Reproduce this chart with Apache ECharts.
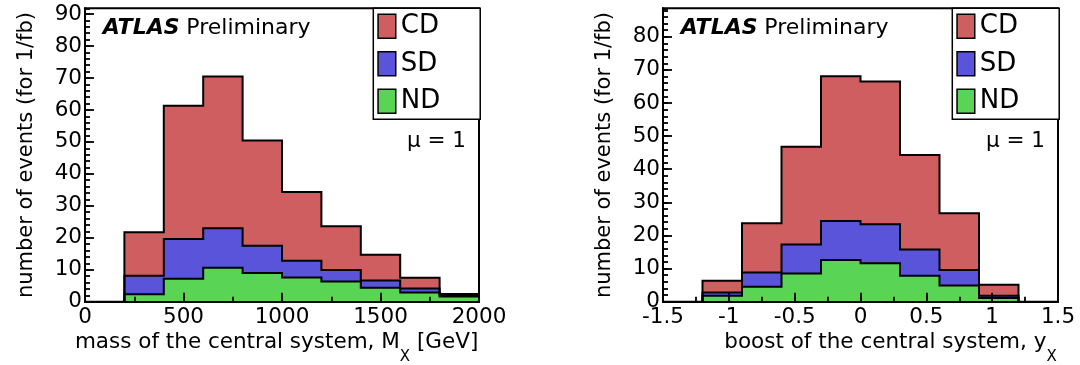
<!DOCTYPE html>
<html><head><meta charset="utf-8">
<script src="https://cdn.jsdelivr.net/npm/echarts@6/dist/echarts.min.js"></script>
<style>html,body{margin:0;padding:0;background:#fff}#c{width:1080px;height:365px}</style>
</head><body><div id="c"></div>
<script>
// ---- data ----
const seriesNames = ['CD', 'SD', 'ND'];
const massBinEdges = [200, 400, 600, 800, 1000, 1200, 1400, 1600, 1800, 2000];
const massND = [2.3, 7.2, 10.6, 9.0, 7.6, 6.3, 4.4, 2.9, 1.6];
const massSD = [5.8, 12.4, 12.4, 8.5, 5.2, 3.6, 2.2, 1.2, 0.4];
const massCD = [13.6, 41.7, 47.5, 32.9, 21.5, 13.7, 8.1, 3.4, 0.4];
const boostBinEdges = [-1.2, -0.9, -0.6, -0.3, 0, 0.3, 0.6, 0.9, 1.2];
const boostND = [1.8, 4.5, 8.5, 12.6, 11.6, 7.8, 4.9, 1.1];
const boostSD = [1.0, 4.3, 8.8, 11.8, 11.8, 8.0, 4.7, 0.7];
const boostCD = [3.5, 14.9, 29.5, 43.7, 43.1, 28.5, 17.1, 3.3];

const FONT = 'DejaVu Sans';
const COLORS = {CD: '#cf5e61', SD: '#5954d9', ND: '#59d454'};

function addArrays(a, b) { return a.map((v, i) => +(v + b[i]).toFixed(3)); }
function histPath(edges, vals) {
  const p = [[edges[0], 0]];
  vals.forEach((v, i) => { p.push([edges[i], v]); p.push([edges[i + 1], v]); });
  p.push([edges[edges.length - 1], 0]);
  return p;
}
function histSeries(name, edges, vals, xi, yi) {
  return {
    type: 'line', name, xAxisIndex: xi, yAxisIndex: yi,
    data: histPath(edges, vals), symbol: 'none', showSymbol: false,
    lineStyle: {color: '#000', width: 2, join: 'miter'},
    areaStyle: {color: COLORS[name], opacity: 1, origin: 'start'},
    itemStyle: {color: COLORS[name]},
    emphasis: {disabled: true}, animation: false
  };
}
function stackTops(nd, sd, cd) {
  const ndTop = nd.slice();
  const sdTop = addArrays(ndTop, sd);
  const cdTop = addArrays(sdTop, cd);
  return {ND: ndTop, SD: sdTop, CD: cdTop};
}
const massTops = stackTops(massND, massSD, massCD);
const boostTops = stackTops(boostND, boostSD, boostCD);

const plainNum = v => String(v);
const labelStyle = {color: '#000', fontFamily: FONT, fontSize: 21.5, formatter: plainNum};
const MAJOR = 9, MINOR = 5;
const TICK_STYLE = {color: '#000', width: 1.8};
function mainX(grid, min, max, interval) {
  return {type: 'value', gridIndex: grid, min, max, interval, position: 'bottom', z: 5,
    axisLine: {show: true, onZero: false, lineStyle: {color: '#000', width: 2}},
    axisTick: {show: true, inside: true, length: MAJOR, lineStyle: TICK_STYLE},
    axisLabel: Object.assign({show: true, margin: 5, showMinLabel: true, showMaxLabel: true}, labelStyle),
    splitLine: {show: false}};
}
function minorX(grid, min, max, interval) {
  return {type: 'value', gridIndex: grid, min, max, interval, position: 'bottom', z: 4,
    axisLine: {show: false, onZero: false},
    axisTick: {show: true, inside: true, length: MINOR, lineStyle: TICK_STYLE},
    axisLabel: {show: false}, splitLine: {show: false}};
}
function mainY(grid, max, name) {
  return {type: 'value', gridIndex: grid, min: 0, max, interval: 10, position: 'left', z: 5,
    axisLine: {show: true, onZero: false, lineStyle: {color: '#000', width: 2}},
    axisTick: {show: true, inside: true, length: MAJOR, lineStyle: TICK_STYLE},
    axisLabel: Object.assign({show: true, margin: 3, showMaxLabel: false}, labelStyle),
    splitLine: {show: false},
    name, nameLocation: 'middle', nameRotate: 90, nameGap: 48,
    nameTextStyle: {color: '#000', fontFamily: FONT, fontSize: 21}};
}
function minorY(grid, max) {
  return {type: 'value', gridIndex: grid, min: 0, max, interval: 2, position: 'left', z: 4,
    axisLine: {show: false, onZero: false},
    axisTick: {show: true, inside: true, length: MINOR, lineStyle: TICK_STYLE},
    axisLabel: {show: false}, splitLine: {show: false}};
}
function legendFor(left) {
  return {
    left, top: 8.3, orient: 'vertical', icon: 'rect',
    data: seriesNames.map(n => ({name: n, itemStyle: {color: COLORS[n]}})),
    itemWidth: 17.7, itemHeight: 24, itemGap: 11.5,
    padding: [5, 40, 5, 4], borderColor: '#000', borderWidth: 1.5, backgroundColor: '#fff',
    itemStyle: {borderColor: '#000', borderWidth: 1.5},
    textStyle: {color: '#000', fontFamily: FONT, fontSize: 26, lineHeight: 24},
    selectedMode: false
  };
}
function textEl(x, y, text, rich, align, va) {
  return {type: 'text', x, y, z: 10, style: {text, rich, align, verticalAlign: va, fill: '#000',
    fontFamily: FONT, fontSize: 21.5}};
}
const atlasRich = {
  a: {fontFamily: FONT, fontSize: 22, fontStyle: 'italic', fontWeight: 'bold', fill: '#000'},
  b: {fontFamily: FONT, fontSize: 22, fill: '#000'}
};
const titleRich = {
  m: {fontFamily: FONT, fontSize: 21.5, lineHeight: 22, verticalAlign: 'top', fill: '#000'},
  s: {fontFamily: FONT, fontSize: 15, lineHeight: 53, fill: '#000'}
};

const option = {
  backgroundColor: '#fff',
  animation: false,
  grid: [
    {left: 85, top: 8.3, width: 394, height: 293.4, show: true, borderColor: '#000', borderWidth: 2, backgroundColor: 'transparent'},
    {left: 663, top: 8.3, width: 395, height: 293.4, show: true, borderColor: '#000', borderWidth: 2, backgroundColor: 'transparent'}
  ],
  xAxis: [
    mainX(0, 0, 2000, 500), minorX(0, 0, 2000, 250),
    mainX(1, -1.5, 1.5, 0.5), minorX(1, -1.5, 1.5, 0.25)
  ],
  yAxis: [
    mainY(0, 91.8, 'number of events (for 1/fb)'), minorY(0, 91.8),
    mainY(1, 88.6, 'number of events (for 1/fb)'), minorY(1, 88.6)
  ],
  legend: [legendFor(373.3), legendFor(952.3)],
  series: [
    histSeries('CD', massBinEdges, massTops.CD, 0, 0),
    histSeries('SD', massBinEdges, massTops.SD, 0, 0),
    histSeries('ND', massBinEdges, massTops.ND, 0, 0),
    histSeries('CD', boostBinEdges, boostTops.CD, 2, 2),
    histSeries('SD', boostBinEdges, boostTops.SD, 2, 2),
    histSeries('ND', boostBinEdges, boostTops.ND, 2, 2)
  ],
  graphic: [
    textEl(102.7, 28.3, '{a|ATLAS} {b|Preliminary}', atlasRich, 'left', 'middle'),
    textEl(680.7, 28.3, '{a|ATLAS} {b|Preliminary}', atlasRich, 'left', 'middle'),
    textEl(466, 141.7, 'μ = 1', null, 'right', 'middle'),
    textEl(1045, 141.7, 'μ = 1', null, 'right', 'middle'),
    textEl(478.3, 331, '{m|mass of the central system, M}{s|X}{m| [GeV]}', titleRich, 'right', 'top'),
    textEl(1056.7, 331, '{m|boost of the central system, y}{s|X}', titleRich, 'right', 'top')
  ]
};
const chart = echarts.init(document.getElementById('c'), null, {renderer: 'canvas'});
chart.setOption(option);
</script>
</body></html>
